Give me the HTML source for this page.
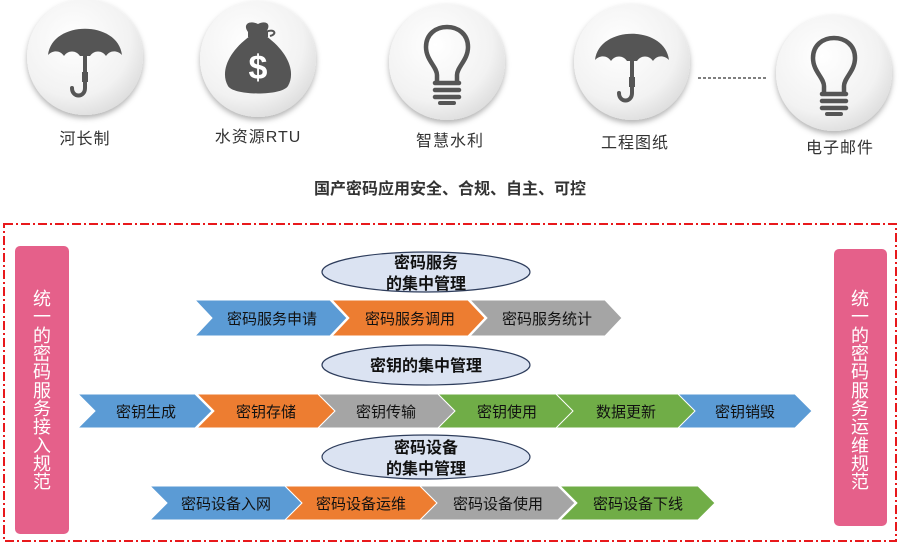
<!DOCTYPE html>
<html><head><meta charset="utf-8"><style>
body{margin:0;width:900px;height:543px;background:#fff;overflow:hidden}
svg{display:block}
text{font-family:"Liberation Sans","Noto Sans CJK SC",sans-serif}
</style></head><body>
<svg width="900" height="543" viewBox="0 0 900 543" xmlns="http://www.w3.org/2000/svg">
<defs>
<radialGradient id="cg" cx="0.4" cy="0.35" r="0.7">
<stop offset="0" stop-color="#ffffff"/><stop offset="0.7" stop-color="#f2f2f2"/><stop offset="1" stop-color="#dcdcdc"/></radialGradient>
<filter id="sh" x="-20%" y="-20%" width="140%" height="150%"><feDropShadow dx="0" dy="3" stdDeviation="3" flood-color="#000" flood-opacity="0.3"/></filter>
<g id="umb">
<path d="M-37,-5 C-33,-40 33,-40 37,-5 C32,-10 25,-10 21,-4 C17,-10 9,-10 5,-4 L0,-4 L-5,-4 C-9,-10 -17,-10 -21,-4 C-25,-10 -32,-10 -37,-5Z" fill="#555"/>
<path d="M0,-8 L0,28 C0,38 -13,38 -13,28" stroke="#555" stroke-width="4" fill="none" stroke-linecap="round"/>
<rect x="-3" y="12" width="6" height="10" fill="#555"/>
</g>
<g id="bulb">
<path d="M-10,18 L-10,10 C-10,2 -21,-5 -21,-18 C-21,-31 -11,-38 0,-38 C11,-38 21,-31 21,-18 C21,-5 10,2 10,10 L10,18" stroke="#555" stroke-width="4.5" fill="none"/>
<path d="M-12,18 H12 M-12,25 H12 M-12,32 H12" stroke="#555" stroke-width="4.5" stroke-linecap="round"/>
<path d="M-7,38 H7" stroke="#555" stroke-width="4" stroke-linecap="round"/>
</g>
</defs>
<g filter="url(#sh)">
<circle cx="85" cy="57" r="58" fill="url(#cg)"/>
<circle cx="258" cy="59" r="58" fill="url(#cg)"/>
<circle cx="447" cy="62" r="58" fill="url(#cg)"/>
<circle cx="632" cy="62" r="58" fill="url(#cg)"/>
<circle cx="834" cy="73" r="58" fill="url(#cg)"/>
</g>
<use href="#umb" x="85" y="60"/>
<use href="#umb" x="632" y="65"/>
<use href="#bulb" x="447" y="65"/>
<use href="#bulb" x="834" y="76"/>
<g transform="translate(258,62)">
<path d="M-10,-30 C-16,-38 -8,-42 0,-38 C8,-42 14,-38 8,-30 Z" fill="#555"/>
<path d="M-8,-26 C-30,-10 -38,10 -30,24 C-24,34 24,34 30,24 C38,10 30,-10 8,-26 Z" fill="#555"/>
<rect x="-10" y="-30" width="20" height="5" fill="#555"/>
<path d="M8,-30 C16,-34 20,-28 12,-26" stroke="#555" stroke-width="2" fill="none"/>
<text x="0" y="17" text-anchor="middle" font-size="34" font-weight="bold" fill="#fff">$</text>
</g>
<line x1="698" y1="78" x2="768" y2="78" stroke="#555" stroke-width="1.5" stroke-dasharray="3,2"/>
<g font-size="16" fill="#333" text-anchor="middle" letter-spacing="1">
<text x="85" y="144">河长制</text>
<text x="258" y="142">水资源RTU</text>
<text x="450" y="146">智慧水利</text>
<text x="635" y="148">工程图纸</text>
<text x="840" y="153">电子邮件</text>
</g>
<text x="450" y="194" text-anchor="middle" font-size="16" font-weight="bold" fill="#333">国产密码应用安全、合规、自主、可控</text>
<rect x="4" y="224" width="892" height="317" fill="none" stroke="#e8191c" stroke-width="2" stroke-dasharray="9,3,2,3"/>
<rect x="15" y="246" width="54" height="288" rx="5" fill="#e5608a"/>
<rect x="834" y="249" width="53" height="277" rx="5" fill="#e5608a"/>
<g font-size="18" fill="#fff" text-anchor="middle">
<text x="42" y="305">统</text><text x="42" y="323">一</text><text x="42" y="342">的</text><text x="42" y="360">密</text><text x="42" y="378">码</text><text x="42" y="397">服</text><text x="42" y="415">务</text><text x="42" y="433">接</text><text x="42" y="452">入</text><text x="42" y="470">规</text><text x="42" y="488">范</text>
</g>
<g font-size="18" fill="#fff" text-anchor="middle">
<text x="860" y="305">统</text><text x="860" y="323">一</text><text x="860" y="342">的</text><text x="860" y="360">密</text><text x="860" y="378">码</text><text x="860" y="397">服</text><text x="860" y="415">务</text><text x="860" y="433">运</text><text x="860" y="452">维</text><text x="860" y="470">规</text><text x="860" y="488">范</text>
</g>
<g fill="#dbe3f2" stroke="#2e3d5c" stroke-width="1.2">
<ellipse cx="426" cy="272" rx="104" ry="20"/>
<ellipse cx="426" cy="365" rx="104" ry="20"/>
<ellipse cx="426" cy="457" rx="104" ry="22"/>
</g>
<g font-size="16" font-weight="bold" fill="#111" text-anchor="middle">
<text x="426" y="268">密码服务</text><text x="426" y="289">的集中管理</text>
<text x="426" y="371">密钥的集中管理</text>
<text x="426" y="453">密码设备</text><text x="426" y="474">的集中管理</text>
</g>
<g stroke="#fff" stroke-width="1">
<polygon points="195,300 330,300 347,318 330,336 195,336 212,318" fill="#5b9bd5"/>
<polygon points="332,300 468,300 485,318 468,336 332,336 349,318" fill="#ed7d31"/>
<polygon points="470,300 605,300 622,318 605,336 470,336 487,318" fill="#a5a5a5"/>
<polygon points="78,394 195,394 212,411 195,428 78,428 95,411" fill="#5b9bd5"/>
<polygon points="197,394 318,394 335,411 318,428 197,428 214,411" fill="#ed7d31"/>
<polygon points="318,394 438,394 455,411 438,428 318,428 335,411" fill="#a5a5a5"/>
<polygon points="438,394 560,394 577,411 560,428 438,428 455,411" fill="#70ad47"/>
<polygon points="556,394 680,394 697,411 680,428 556,428 573,411" fill="#70ad47"/>
<polygon points="678,394 795,394 812,411 795,428 678,428 695,411" fill="#5b9bd5"/>
<polygon points="150,486 285,486 302,503 285,520 150,520 167,503" fill="#5b9bd5"/>
<polygon points="285,486 420,486 437,503 420,520 285,520 302,503" fill="#ed7d31"/>
<polygon points="420,486 558,486 575,503 558,520 420,520 437,503" fill="#a5a5a5"/>
<polygon points="560,486 698,486 715,503 698,520 560,520 577,503" fill="#70ad47"/>
</g>
<g font-size="15" fill="#111" text-anchor="middle">
<text x="272" y="324">密码服务申请</text>
<text x="410" y="324">密码服务调用</text>
<text x="547" y="324">密码服务统计</text>
<text x="146" y="417">密钥生成</text>
<text x="266" y="417">密钥存储</text>
<text x="386" y="417">密钥传输</text>
<text x="507" y="417">密钥使用</text>
<text x="626" y="417">数据更新</text>
<text x="745" y="417">密钥销毁</text>
<text x="226" y="509">密码设备入网</text>
<text x="361" y="509">密码设备运维</text>
<text x="498" y="509">密码设备使用</text>
<text x="638" y="509">密码设备下线</text>
</g>
</svg>
</body></html>
